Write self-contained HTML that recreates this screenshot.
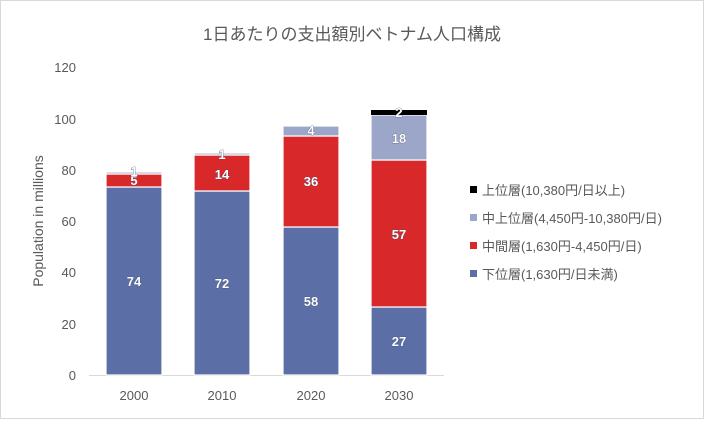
<!DOCTYPE html>
<html><head><meta charset="utf-8"><style>
body{margin:0;background:#fff;}
svg text{font-family:"Liberation Sans","Noto Sans CJK JP",sans-serif;}
</style></head><body>
<svg width="704" height="419" viewBox="0 0 704 419" xmlns="http://www.w3.org/2000/svg">
<rect x="0.5" y="0.5" width="703" height="418" fill="#fff" stroke="#d9d9d9"/>
<text x="352" y="40" font-size="17" fill="#595959" text-anchor="middle">1日あたりの支出額別ベトナム人口構成</text>
<g font-size="13" fill="#595959" text-anchor="end">
<text x="76" y="380">0</text><text x="76" y="329">20</text><text x="76" y="277">40</text>
<text x="76" y="226">60</text><text x="76" y="175">80</text><text x="76" y="124">100</text><text x="76" y="72">120</text>
</g>
<text transform="translate(43,221) rotate(-90)" font-size="14" fill="#595959" text-anchor="middle">Population in millions</text>
<line x1="89" y1="375.5" x2="444" y2="375.5" stroke="#d9d9d9"/>
<g stroke="#fff" stroke-width="1.2">
<rect x="106" y="187" width="56" height="188" fill="#5b6fa6"/>
<rect x="106" y="174" width="56" height="13" fill="#d9282a"/>
<rect x="106" y="172" width="56" height="2" fill="#9ba6c8"/>
<rect x="194" y="191" width="56" height="184" fill="#5b6fa6"/>
<rect x="194" y="155" width="56" height="36" fill="#d9282a"/>
<rect x="194" y="153" width="56" height="2" fill="#9ba6c8"/>
<rect x="283" y="227" width="56" height="148" fill="#5b6fa6"/>
<rect x="283" y="136" width="56" height="91" fill="#d9282a"/>
<rect x="283" y="126" width="56" height="10" fill="#9ba6c8"/>
<rect x="371" y="307" width="56" height="68" fill="#5b6fa6"/>
<rect x="371" y="160" width="56" height="147" fill="#d9282a"/>
<rect x="371" y="115" width="56" height="45" fill="#9ba6c8"/>
</g>
<rect x="371" y="110" width="56" height="5" fill="#000"/>
<g font-size="13" font-weight="bold" fill="#fff" text-anchor="middle" stroke="#404a6a" stroke-width="0.6" paint-order="stroke">
<text x="134" y="286">74</text><text x="134" y="185">5</text><text x="134" y="176">1</text>
<text x="222" y="288">72</text><text x="222" y="179">14</text><text x="222" y="159">1</text>
<text x="311" y="306">58</text><text x="311" y="186">36</text><text x="311" y="135">4</text>
<text x="399" y="346">27</text><text x="399" y="239">57</text><text x="399" y="143">18</text><text x="399" y="117">2</text>
</g>
<g font-size="13" fill="#595959" text-anchor="middle">
<text x="134" y="400">2000</text><text x="222" y="400">2010</text><text x="311" y="400">2020</text><text x="399" y="400">2030</text>
</g>
<g font-size="13" fill="#595959">
<rect x="470" y="186" width="7" height="7" fill="#000"/><text x="482" y="195">上位層(10,380円/日以上)</text>
<rect x="470" y="214" width="7" height="7" fill="#9ba6c8"/><text x="482" y="223">中上位層(4,450円-10,380円/日)</text>
<rect x="470" y="242" width="7" height="7" fill="#d9282a"/><text x="482" y="251">中間層(1,630円-4,450円/日)</text>
<rect x="470" y="270" width="7" height="7" fill="#5b6fa6"/><text x="482" y="279">下位層(1,630円/日未満)</text>
</g>
</svg>
</body></html>
